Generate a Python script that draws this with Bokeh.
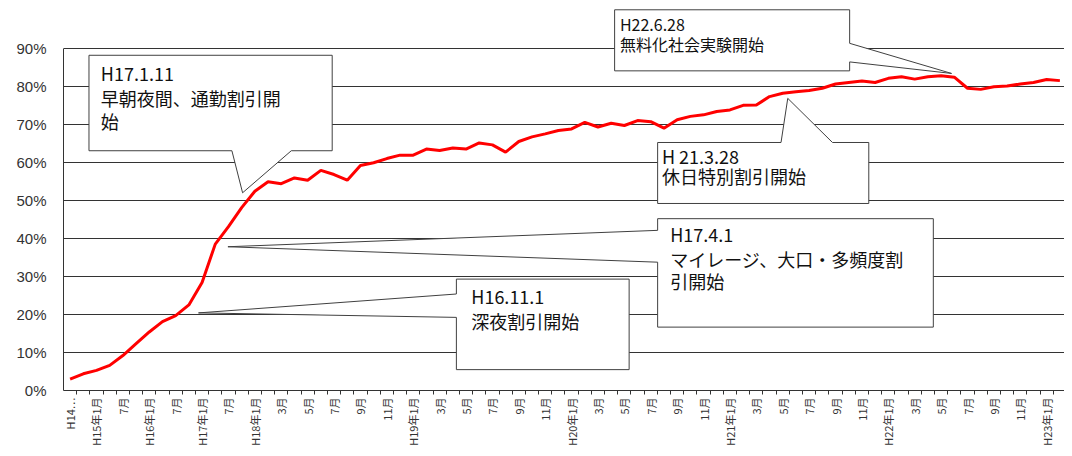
import math
from bokeh.plotting import figure
from bokeh.models import Range1d, FixedTicker, PrintfTickFormatter, ColumnDataSource
from bokeh.core.properties import value
from bokeh.embed import file_html
from bokeh.resources import INLINE

# ---- data -------------------------------------------------------------
categories = [
    "H14…", "10月", "H15年1月", "4月", "7月", "10月", "H16年1月", "4月", "7月", "10月",
    "H17年1月", "4月", "7月", "10月",
    "H18年1月", "2月", "3月", "4月", "5月", "6月", "7月", "8月", "9月", "10月", "11月", "12月",
    "H19年1月", "2月", "3月", "4月", "5月", "6月", "7月", "8月", "9月", "10月", "11月", "12月",
    "H20年1月", "2月", "3月", "4月", "5月", "6月", "7月", "8月", "9月", "10月", "11月", "12月",
    "H21年1月", "2月", "3月", "4月", "5月", "6月", "7月", "8月", "9月", "10月", "11月", "12月",
    "H22年1月", "2月", "3月", "4月", "5月", "6月", "7月", "8月", "9月", "10月", "11月", "12月",
    "H23年1月", "2月",
]
usage_rate = [
    3.0, 4.4, 5.3, 6.6, 9.2, 12.3, 15.4, 18.1, 19.7, 22.5,
    28.4, 38.5, 43.1, 48.1,
    52.4, 54.9, 54.4, 55.9, 55.3, 57.9, 56.8, 55.3, 59.2, 59.9, 61.0, 61.9,
    61.9, 63.5, 63.1, 63.8, 63.5, 65.1, 64.6, 62.7, 65.5, 66.7, 67.5, 68.4,
    68.8, 70.5, 69.3, 70.3, 69.7, 71.0, 70.7, 69.0, 71.2, 72.1, 72.5, 73.4,
    73.8, 75.0, 75.1, 77.3, 78.2, 78.6, 78.9, 79.5, 80.6, 81.0, 81.4, 81.0,
    82.1, 82.5, 81.9, 82.5, 82.8, 82.4, 79.5, 79.2, 79.9, 80.1, 80.6, 81.0,
    81.8, 81.5,
]
y_ticks = [0, 10, 20, 30, 40, 50, 60, 70, 80, 90]

# annotation texts
notes = [
    ["H17.1.11", "早朝夜間、通勤割引開", "始"],
    ["H22.6.28", "無料化社会実験開始"],
    ["H 21.3.28", "休日特別割引開始"],
    ["H17.4.1", "マイレージ、大口・多頻度割", "引開始"],
    ["H16.11.1", "深夜割引開始"],
]

# ---- figure -----------------------------------------------------------
x_idx = list(range(len(categories)))
p = figure(width=1064, height=448, output_backend="svg", toolbar_location=None,
           x_range=Range1d(-0.5, 75.35), y_range=Range1d(0, 100.47),
           min_border_left=63, min_border_right=0, min_border_top=8, min_border_bottom=56)
p.outline_line_color = None
p.background_fill_color = "white"
p.border_fill_color = "white"

# x axis
label_ticks = x_idx[::2]
p.xaxis.ticker = FixedTicker(ticks=label_ticks, minor_ticks=[i + 0.5 for i in x_idx[:-1]])
p.xaxis.major_label_overrides = {i: categories[i] for i in label_ticks}
p.xaxis.major_label_orientation = math.pi / 2
p.xaxis.major_label_text_font = "Noto Sans CJK JP"
p.xaxis.major_label_text_font_size = "11px"
p.xaxis.major_label_text_color = "#333333"
p.xaxis.major_label_standoff = 3
p.xaxis.major_tick_out = 0
p.xaxis.major_tick_in = 0
p.xaxis.minor_tick_out = 4
p.xaxis.minor_tick_in = 0
p.xaxis.minor_tick_line_color = "#333333"
p.xaxis.axis_line_color = "#333333"
p.xgrid.grid_line_color = None

# y axis
p.yaxis.ticker = FixedTicker(ticks=y_ticks)
p.yaxis.formatter = PrintfTickFormatter(format="%d%%")
p.yaxis.bounds = (0, 90)
p.yaxis.axis_line_color = "#333333"
p.yaxis.major_tick_out = 0
p.yaxis.major_tick_in = 0
p.yaxis.minor_tick_line_color = None
p.yaxis.major_label_text_font = "Liberation Sans"
p.yaxis.major_label_text_font_size = "15px"
p.yaxis.major_label_text_color = "#333333"
p.yaxis.major_label_standoff = 17
p.ygrid.ticker = FixedTicker(ticks=y_ticks[1:])
p.ygrid.grid_line_color = "#333333"
p.ygrid.grid_line_width = 1

# data line
src = ColumnDataSource(dict(x=x_idx, y=usage_rate))
p.line("x", "y", source=src, line_color="#ff0000", line_width=3)

# ---- callouts (data units: category index, percent) -------------------
callout_xs = [
    [1.43, 19.86, 19.86, 16.76, 13.07, 12.26, 1.43],
    [41.26, 59.07, 59.07, 66.79, 59.07, 59.07, 41.26],
    [44.52, 53.87, 54.38, 57.77, 60.52, 60.52, 44.52],
    [44.52, 65.41, 65.41, 44.52, 44.52, 11.96, 44.52],
    [29.27, 42.36, 42.36, 29.27, 29.27, 9.73, 29.27],
]
callout_ys = [
    [88.17, 88.17, 63.06, 63.06, 52.0, 63.06, 63.06],
    [100.13, 100.13, 91.31, 83.39, 86.42, 84.07, 84.07],
    [65.23, 65.23, 76.84, 65.23, 65.23, 49.19, 49.19],
    [45.19, 45.19, 16.67, 16.67, 33.75, 37.81, 42.12],
    [29.30, 29.30, 5.49, 5.49, 19.23, 20.41, 25.38],
]
p.patches(callout_xs, callout_ys, fill_color="white", line_color="#404040", line_width=1)

text_pos = [
    (2.33, [83.46, 76.92, 70.9], "18px"),
    (41.66, [96.45, 91.23], "16px"),
    (44.85, [61.56, 56.33], "18px"),
    (45.47, [41.08, 34.54, 28.86], "18px"),
    (30.4, [24.86, 18.31], "18px"),
]
for (tx, tys, fs), lines in zip(text_pos, notes):
    p.text(x=[tx] * len(lines), y=tys, text=lines, text_font=value("Noto Sans CJK JP"),
           text_font_size=fs, text_color="#111111", text_align="left", text_baseline="middle")

open("out.html", "w").write(file_html(p, INLINE))
